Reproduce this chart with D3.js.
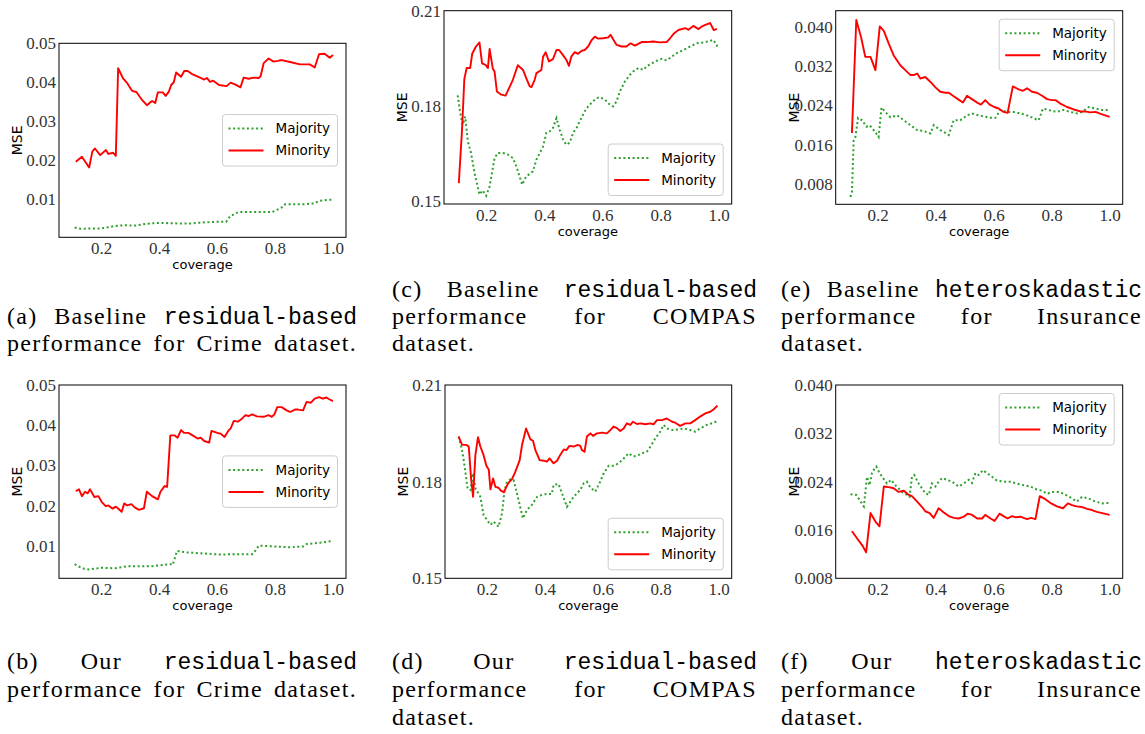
<!DOCTYPE html>
<html lang="en">
<head>
<meta charset="UTF-8">
<title>MSE vs coverage, Majority / Minority</title>
<script src="https://cdnjs.cloudflare.com/ajax/libs/d3/7.8.5/d3.min.js"></script>
<style>
  body { margin: 0; background: #fff; }
  svg { display: block; }
</style>
</head>
<body>
<div id="chart"></div>
<script>

// ---- data ----
var seriesNames = ["Majority", "Minority"];
var xTicks = [0.2, 0.4, 0.6, 0.8, 1.0];
var yTicksCrime = [0.01, 0.02, 0.03, 0.04, 0.05];
var yTicksCompas = [0.15, 0.18, 0.21];
var yTicksInsurance = [0.008, 0.016, 0.024, 0.032, 0.040];

// (a) baseline residual-based, Crime
var covA_maj = [0.109,0.128,0.202,0.248,0.282,0.318,0.360,0.400,0.450,0.500,0.550,0.600,0.632,0.645,0.674,0.700,0.790,0.800,0.822,0.835,0.900,0.935,0.955,1.000];
var mseA_maj = [0.0027,0.0024,0.0025,0.0031,0.0033,0.0032,0.0037,0.0039,0.0038,0.0037,0.0040,0.0042,0.0042,0.0056,0.0067,0.0067,0.0067,0.0070,0.0078,0.0087,0.0087,0.0089,0.0096,0.0099];
var covA_min = [0.113,0.134,0.159,0.170,0.179,0.197,0.217,0.225,0.242,0.251,0.259,0.276,0.291,0.307,0.322,0.339,0.358,0.376,0.387,0.396,0.413,0.423,0.434,0.442,0.451,0.459,0.476,0.487,0.499,0.516,0.538,0.556,0.565,0.576,0.587,0.607,0.633,0.647,0.664,0.681,0.692,0.709,0.726,0.744,0.750,0.761,0.778,0.795,0.810,0.823,0.852,0.886,0.920,0.937,0.952,0.971,0.989,1.000];
var mseA_min = [0.0196,0.0209,0.0181,0.0222,0.0230,0.0213,0.0226,0.0216,0.0219,0.0211,0.0436,0.0410,0.0397,0.0378,0.0375,0.0357,0.0341,0.0352,0.0347,0.0374,0.0374,0.0365,0.0376,0.0393,0.0400,0.0425,0.0414,0.0429,0.0429,0.0420,0.0413,0.0407,0.0411,0.0401,0.0404,0.0393,0.0390,0.0399,0.0394,0.0387,0.0412,0.0409,0.0412,0.0411,0.0415,0.0449,0.0461,0.0453,0.0455,0.0457,0.0452,0.0446,0.0446,0.0438,0.0472,0.0473,0.0463,0.0470];

// (b) our residual-based, Crime
var covB_maj = [0.109,0.134,0.157,0.202,0.248,0.293,0.373,0.441,0.447,0.462,0.499,0.545,0.613,0.658,0.721,0.727,0.744,0.772,0.852,0.897,0.909,0.954,1.000];
var mseB_maj = [0.0055,0.0045,0.0042,0.0046,0.0045,0.0050,0.0050,0.0055,0.0053,0.0088,0.0084,0.0082,0.0079,0.0080,0.0080,0.0083,0.0101,0.0100,0.0097,0.0099,0.0105,0.0108,0.0113];
var covB_min = [0.113,0.124,0.134,0.145,0.154,0.162,0.177,0.191,0.202,0.216,0.225,0.240,0.251,0.261,0.271,0.280,0.290,0.305,0.316,0.331,0.348,0.358,0.376,0.396,0.405,0.419,0.428,0.439,0.453,0.464,0.476,0.487,0.501,0.516,0.533,0.544,0.556,0.573,0.581,0.601,0.613,0.626,0.641,0.647,0.658,0.672,0.687,0.698,0.710,0.721,0.738,0.761,0.778,0.789,0.798,0.808,0.823,0.840,0.852,0.869,0.880,0.897,0.909,0.924,0.937,0.952,0.965,0.977,0.989,1.000];
var mseB_min = [0.0236,0.0241,0.0224,0.0235,0.0231,0.0241,0.0222,0.0224,0.0210,0.0199,0.0201,0.0193,0.0198,0.0192,0.0185,0.0206,0.0201,0.0204,0.0196,0.0190,0.0194,0.0235,0.0224,0.0216,0.0235,0.0249,0.0247,0.0375,0.0375,0.0369,0.0388,0.0381,0.0381,0.0375,0.0367,0.0369,0.0361,0.0357,0.0386,0.0381,0.0379,0.0371,0.0388,0.0392,0.0411,0.0409,0.0417,0.0425,0.0423,0.0427,0.0422,0.0421,0.0425,0.0421,0.0427,0.0445,0.0445,0.0437,0.0433,0.0439,0.0439,0.0437,0.0458,0.0456,0.0466,0.0470,0.0466,0.0469,0.0464,0.0460];

// (c) baseline residual-based, COMPAS
var covC_maj = [0.102,0.111,0.119,0.128,0.137,0.148,0.160,0.177,0.188,0.200,0.212,0.229,0.240,0.258,0.275,0.292,0.304,0.324,0.338,0.361,0.373,0.396,0.407,0.419,0.430,0.442,0.453,0.465,0.476,0.488,0.499,0.511,0.522,0.539,0.551,0.568,0.580,0.591,0.609,0.626,0.637,0.649,0.660,0.678,0.695,0.706,0.724,0.741,0.752,0.770,0.787,0.804,0.821,0.839,0.856,0.879,0.902,0.925,0.948,0.965,0.982,0.996];
var mseC_maj = [0.1833,0.1777,0.1740,0.1766,0.1688,0.1651,0.1588,0.1520,0.1533,0.1516,0.1546,0.1635,0.1651,0.1651,0.1646,0.1635,0.1609,0.1551,0.1577,0.1593,0.1630,0.1672,0.1714,0.1719,0.1730,0.1761,0.1724,0.1693,0.1677,0.1684,0.1714,0.1730,0.1751,0.1782,0.1798,0.1814,0.1824,0.1827,0.1819,0.1803,0.1798,0.1814,0.1845,0.1877,0.1898,0.1908,0.1919,0.1913,0.1924,0.1934,0.1942,0.1948,0.1943,0.1955,0.1966,0.1976,0.1987,0.1997,0.2000,0.2003,0.2008,0.1987];
var covC_min = [0.106,0.117,0.125,0.133,0.145,0.152,0.165,0.177,0.186,0.198,0.206,0.212,0.223,0.229,0.237,0.252,0.267,0.292,0.309,0.327,0.338,0.350,0.356,0.367,0.373,0.390,0.396,0.405,0.416,0.430,0.442,0.451,0.465,0.476,0.485,0.493,0.505,0.516,0.528,0.539,0.551,0.562,0.574,0.585,0.603,0.620,0.628,0.637,0.649,0.666,0.683,0.697,0.712,0.735,0.752,0.775,0.798,0.821,0.833,0.847,0.862,0.885,0.896,0.913,0.931,0.942,0.954,0.971,0.983,0.994];
var mseC_min = [0.1556,0.1724,0.1885,0.1919,0.1919,0.1964,0.1987,0.2000,0.1934,0.1929,0.1919,0.1979,0.1917,0.1908,0.1845,0.1835,0.1832,0.1882,0.1928,0.1913,0.1887,0.1861,0.1859,0.1882,0.1903,0.1913,0.1955,0.1969,0.1940,0.1947,0.1976,0.1976,0.1959,0.1945,0.1926,0.1955,0.1969,0.1964,0.1973,0.1976,0.1987,0.2006,0.2018,0.2012,0.2013,0.2016,0.2024,0.2010,0.1992,0.1987,0.1987,0.1997,0.1990,0.2001,0.2001,0.2003,0.2000,0.2001,0.2013,0.2029,0.2039,0.2045,0.2040,0.2052,0.2042,0.2050,0.2055,0.2061,0.2039,0.2043];

// (d) our residual-based, COMPAS
var covD_maj = [0.102,0.114,0.122,0.133,0.143,0.152,0.160,0.177,0.188,0.200,0.212,0.223,0.240,0.252,0.260,0.269,0.281,0.292,0.309,0.324,0.338,0.355,0.373,0.390,0.407,0.424,0.430,0.447,0.459,0.476,0.488,0.499,0.511,0.522,0.534,0.545,0.557,0.574,0.591,0.603,0.620,0.637,0.655,0.672,0.689,0.706,0.724,0.741,0.752,0.766,0.781,0.798,0.810,0.821,0.839,0.862,0.879,0.896,0.919,0.936,0.959,0.982,0.996];
var mseD_maj = [0.1940,0.1898,0.1852,0.1779,0.1774,0.1826,0.1779,0.1753,0.1697,0.1681,0.1666,0.1676,0.1660,0.1702,0.1769,0.1800,0.1807,0.1805,0.1743,0.1686,0.1712,0.1728,0.1753,0.1759,0.1762,0.1762,0.1790,0.1793,0.1764,0.1722,0.1738,0.1753,0.1764,0.1774,0.1795,0.1800,0.1782,0.1769,0.1800,0.1826,0.1849,0.1849,0.1857,0.1872,0.1888,0.1878,0.1883,0.1890,0.1893,0.1911,0.1934,0.1955,0.1976,0.1965,0.1960,0.1962,0.1965,0.1962,0.1955,0.1965,0.1976,0.1983,0.1988];
var covD_min = [0.102,0.114,0.129,0.137,0.145,0.152,0.160,0.169,0.177,0.188,0.198,0.206,0.212,0.221,0.229,0.240,0.248,0.258,0.267,0.275,0.286,0.298,0.313,0.321,0.335,0.350,0.359,0.367,0.382,0.396,0.407,0.416,0.430,0.442,0.453,0.465,0.474,0.485,0.499,0.514,0.522,0.528,0.537,0.545,0.557,0.566,0.580,0.597,0.614,0.626,0.637,0.649,0.660,0.672,0.683,0.695,0.704,0.718,0.730,0.747,0.764,0.775,0.787,0.804,0.821,0.839,0.850,0.867,0.885,0.902,0.919,0.936,0.954,0.971,0.982,0.996];
var mseD_min = [0.1940,0.1914,0.1914,0.1909,0.1810,0.1753,0.1883,0.1938,0.1909,0.1883,0.1849,0.1838,0.1776,0.1810,0.1784,0.1781,0.1772,0.1767,0.1784,0.1797,0.1807,0.1831,0.1867,0.1914,0.1965,0.1931,0.1927,0.1898,0.1867,0.1865,0.1862,0.1872,0.1857,0.1865,0.1883,0.1900,0.1898,0.1911,0.1909,0.1914,0.1911,0.1898,0.1893,0.1940,0.1950,0.1942,0.1950,0.1952,0.1950,0.1960,0.1971,0.1966,0.1957,0.1965,0.1981,0.1976,0.1986,0.1979,0.1981,0.1978,0.1981,0.1978,0.1991,0.1991,0.1996,0.1986,0.1983,0.1973,0.1981,0.1981,0.1991,0.2002,0.2012,0.2017,0.2024,0.2036];

// (e) baseline heteroskadastic, Insurance
var covE_maj = [0.106,0.111,0.117,0.123,0.132,0.146,0.161,0.172,0.189,0.203,0.213,0.226,0.244,0.267,0.290,0.313,0.336,0.359,0.382,0.393,0.416,0.428,0.445,0.462,0.485,0.508,0.525,0.548,0.571,0.589,0.606,0.623,0.646,0.669,0.692,0.715,0.738,0.755,0.770,0.795,0.818,0.841,0.864,0.887,0.905,0.928,0.951,0.974,1.000];
var mseE_maj = [0.0054,0.0064,0.0169,0.0176,0.0215,0.0210,0.0197,0.0200,0.0188,0.0176,0.0236,0.0227,0.0216,0.0220,0.0210,0.0200,0.0190,0.0188,0.0183,0.0200,0.0190,0.0186,0.0180,0.0210,0.0210,0.0220,0.0224,0.0220,0.0217,0.0215,0.0215,0.0231,0.0227,0.0227,0.0224,0.0220,0.0214,0.0210,0.0234,0.0230,0.0227,0.0231,0.0227,0.0224,0.0227,0.0237,0.0234,0.0231,0.0231];
var covE_min = [0.111,0.126,0.143,0.157,0.175,0.192,0.207,0.221,0.238,0.255,0.278,0.295,0.313,0.324,0.336,0.347,0.364,0.382,0.399,0.416,0.433,0.445,0.462,0.479,0.494,0.508,0.525,0.543,0.556,0.571,0.586,0.602,0.617,0.634,0.648,0.666,0.686,0.701,0.715,0.732,0.749,0.767,0.784,0.801,0.813,0.830,0.853,0.876,0.899,0.916,0.933,0.951,0.974,1.000];
var mseE_min = [0.0184,0.0414,0.0378,0.0339,0.0339,0.0312,0.0401,0.0392,0.0366,0.0342,0.0322,0.0312,0.0302,0.0302,0.0305,0.0295,0.0298,0.0288,0.0277,0.0268,0.0266,0.0266,0.0259,0.0252,0.0246,0.0260,0.0253,0.0246,0.0242,0.0251,0.0242,0.0237,0.0234,0.0227,0.0225,0.0279,0.0273,0.0270,0.0275,0.0268,0.0266,0.0260,0.0253,0.0251,0.0251,0.0244,0.0237,0.0232,0.0228,0.0228,0.0226,0.0227,0.0222,0.0217];

// (f) our heteroskadastic, Insurance
var covF_maj = [0.106,0.126,0.137,0.152,0.163,0.172,0.180,0.189,0.195,0.203,0.215,0.232,0.246,0.261,0.284,0.301,0.310,0.318,0.326,0.341,0.364,0.376,0.387,0.399,0.410,0.422,0.439,0.456,0.479,0.497,0.514,0.525,0.537,0.548,0.563,0.577,0.594,0.611,0.634,0.657,0.680,0.703,0.726,0.749,0.767,0.784,0.801,0.824,0.841,0.864,0.887,0.905,0.928,0.951,0.974,1.000];
var mseF_maj = [0.0219,0.0218,0.0210,0.0199,0.0248,0.0234,0.0254,0.0262,0.0265,0.0257,0.0248,0.0237,0.0243,0.0234,0.0223,0.0218,0.0215,0.0248,0.0251,0.0237,0.0221,0.0218,0.0237,0.0232,0.0240,0.0246,0.0243,0.0240,0.0232,0.0237,0.0243,0.0238,0.0254,0.0251,0.0259,0.0254,0.0248,0.0242,0.0240,0.0240,0.0237,0.0234,0.0232,0.0227,0.0225,0.0220,0.0223,0.0223,0.0220,0.0214,0.0207,0.0215,0.0212,0.0207,0.0204,0.0205];
var covF_min = [0.111,0.129,0.146,0.160,0.175,0.192,0.206,0.221,0.238,0.255,0.272,0.290,0.307,0.318,0.336,0.353,0.364,0.379,0.393,0.410,0.428,0.445,0.462,0.479,0.497,0.510,0.525,0.543,0.560,0.571,0.589,0.603,0.620,0.634,0.648,0.663,0.677,0.692,0.703,0.715,0.729,0.744,0.759,0.778,0.795,0.818,0.839,0.856,0.870,0.885,0.905,0.922,0.939,0.956,0.974,1.000];
var mseF_min = [0.0158,0.0146,0.0135,0.0123,0.0188,0.0174,0.0166,0.0232,0.0231,0.0229,0.0223,0.0225,0.0218,0.0216,0.0207,0.0198,0.0191,0.0188,0.0180,0.0196,0.0189,0.0183,0.0180,0.0179,0.0182,0.0187,0.0185,0.0179,0.0179,0.0185,0.0179,0.0175,0.0187,0.0183,0.0179,0.0183,0.0181,0.0182,0.0180,0.0178,0.0180,0.0178,0.0216,0.0211,0.0205,0.0199,0.0196,0.0204,0.0201,0.0199,0.0198,0.0195,0.0193,0.0190,0.0188,0.0185];

// captions (words, one array per line)
var monoWords = ["residual-based", "heteroskadastic"];
var captionA = [["(a)", "Baseline", "residual-based"], ["performance", "for", "Crime", "dataset."]];
var captionB = [["(b)", "Our", "residual-based"], ["performance", "for", "Crime", "dataset."]];
var captionC = [["(c)", "Baseline", "residual-based"], ["performance", "for", "COMPAS"], ["dataset."]];
var captionD = [["(d)", "Our", "residual-based"], ["performance", "for", "COMPAS"], ["dataset."]];
var captionE = [["(e)", "Baseline", "heteroskadastic"], ["performance", "for", "Insurance"], ["dataset."]];
var captionF = [["(f)", "Our", "heteroskadastic"], ["performance", "for", "Insurance"], ["dataset."]];

// ---- drawing ----
var serifFont = "'Liberation Serif', 'Times New Roman', serif";
var monoFont = "'Liberation Mono', 'DejaVu Sans Mono', monospace";
var sansFont = "'DejaVu Sans', Verdana, sans-serif";
var majColor = "#2ca02c", minColor = "#ff0000";

var svg = d3.select("#chart").append("svg")
    .attr("width", 1145)
    .attr("height", 734);

var panels = [
  {frame: [59, 43.3, 346, 237.3], yDomain: [0.0002, 0.05], yTicks: yTicksCrime, fmt: ".2f", legend: "center",
   maj: [covA_maj, mseA_maj], min: [covA_min, mseA_min]},
  {frame: [59, 385, 346, 578.3], yDomain: [0.002, 0.05], yTicks: yTicksCrime, fmt: ".2f", legend: "center",
   maj: [covB_maj, mseB_maj], min: [covB_min, mseB_min]},
  {frame: [444, 10.7, 731.7, 204], yDomain: [0.149, 0.21], yTicks: yTicksCompas, fmt: ".2f", legend: "lower",
   maj: [covC_maj, mseC_maj], min: [covC_min, mseC_min]},
  {frame: [445, 385, 731.7, 578.3], yDomain: [0.15, 0.21], yTicks: yTicksCompas, fmt: ".2f", legend: "lower",
   maj: [covD_maj, mseD_maj], min: [covD_min, mseD_min]},
  {frame: [835.7, 10.7, 1122.7, 204.3], yDomain: [0.0039, 0.0433], yTicks: yTicksInsurance, fmt: ".3f", legend: "upper",
   maj: [covE_maj, mseE_maj], min: [covE_min, mseE_min]},
  {frame: [835.7, 385, 1122.7, 578.3], yDomain: [0.008, 0.040], yTicks: yTicksInsurance, fmt: ".3f", legend: "upper",
   maj: [covF_maj, mseF_maj], min: [covF_min, mseF_min]}
];

panels.forEach(function(p) {
  var left = p.frame[0], top = p.frame[1], right = p.frame[2], bottom = p.frame[3];

  var x = d3.scaleLinear().domain([0.055, 1.045]).range([left, right]);
  var y = d3.scaleLinear().domain(p.yDomain).range([bottom, top]);

  var g = svg.append("g");

  // axes
  var xAxis = g.append("g")
    .attr("transform", "translate(0," + bottom + ")")
    .call(d3.axisBottom(x).tickValues(xTicks).tickFormat(d3.format(".1f")).tickSize(0).tickPadding(5));
  var yAxis = g.append("g")
    .attr("transform", "translate(" + left + ",0)")
    .call(d3.axisLeft(y).tickValues(p.yTicks).tickFormat(d3.format(p.fmt)).tickSize(0).tickPadding(3));
  [xAxis, yAxis].forEach(function(a) {
    a.select(".domain").remove();
    a.selectAll("text")
      .style("font-family", serifFont)
      .style("font-size", "17px")
      .attr("fill", "#333");
  });

  // series
  var line = d3.line()
    .x(function(d) { return x(d[0]); })
    .y(function(d) { return y(d[1]); });

  g.append("path")
    .datum(d3.zip(p.maj[0], p.maj[1]))
    .attr("d", line)
    .attr("fill", "none")
    .attr("stroke", majColor)
    .attr("stroke-width", 2)
    .attr("stroke-dasharray", "2,2.6");

  g.append("path")
    .datum(d3.zip(p.min[0], p.min[1]))
    .attr("d", line)
    .attr("fill", "none")
    .attr("stroke", minColor)
    .attr("stroke-width", 1.9)
    .attr("stroke-linejoin", "round");

  // frame
  g.append("rect")
    .attr("x", left).attr("y", top)
    .attr("width", right - left).attr("height", bottom - top)
    .attr("fill", "none")
    .attr("stroke", "#000")
    .attr("stroke-width", 1);

  // axis labels
  g.append("text")
    .attr("x", (left + right) / 2)
    .attr("y", bottom + 32)
    .attr("text-anchor", "middle")
    .style("font-family", sansFont)
    .style("font-size", "13px")
    .text("coverage");

  g.append("text")
    .attr("transform", "translate(" + (left - 37) + "," + ((top + bottom) / 2) + ") rotate(-90)")
    .attr("text-anchor", "middle")
    .style("font-family", sansFont)
    .style("font-size", "14px")
    .text("MSE");

  // legend
  var lw = 115, lh = 51.5, inset = 8.5;
  var lx = right - inset - lw;
  var ly = p.legend === "upper" ? top + inset
         : p.legend === "lower" ? bottom - inset - lh
         : (top + bottom) / 2 - lh / 2;
  var lg = g.append("g").attr("transform", "translate(" + lx + "," + ly + ")");
  lg.append("rect")
    .attr("width", lw).attr("height", lh)
    .attr("rx", 3)
    .attr("fill", "#fff").attr("fill-opacity", 0.8)
    .attr("stroke", "#cccccc").attr("stroke-width", 1);
  seriesNames.forEach(function(name, i) {
    var yy = 14 + i * 22;
    lg.append("line")
      .attr("x1", 6).attr("x2", 41).attr("y1", yy).attr("y2", yy)
      .attr("stroke", i === 0 ? majColor : minColor)
      .attr("stroke-width", 2)
      .attr("stroke-dasharray", i === 0 ? "2,2.6" : null);
    lg.append("text")
      .attr("x", 53).attr("y", yy)
      .attr("dy", "0.36em")
      .style("font-family", sansFont)
      .style("font-size", "13.5px")
      .text(name);
  });
});

// justified captions under each panel
function drawCaption(lines, x0, x1, baselines) {
  lines.forEach(function(words, i) {
    var t = svg.append("text").attr("y", baselines[i]).attr("fill", "#000");
    var spans = words.map(function(w) {
      var isMono = monoWords.indexOf(w) >= 0;
      return t.append("tspan")
        .style("font-family", isMono ? monoFont : serifFont)
        .style("font-size", isMono ? "23px" : "24px")
        .style("letter-spacing", isMono ? "0px" : "1.3px")
        .text(w);
    });
    var widths = spans.map(function(s) { return s.node().getComputedTextLength(); });
    var total = d3.sum(widths);
    var gap = words.length > 1 ? (x1 - x0 - total) / (words.length - 1) : 0;
    var cx = x0;
    spans.forEach(function(s, k) {
      s.attr("x", cx);
      cx += widths[k] + gap;
    });
  });
}

drawCaption(captionA, 7, 357, [324, 351]);
drawCaption(captionC, 392, 757, [297, 324, 351]);
drawCaption(captionE, 781, 1142, [297, 324, 351]);
drawCaption(captionB, 7, 357, [669, 697]);
drawCaption(captionD, 392, 757, [669, 697, 725]);
drawCaption(captionF, 781, 1142, [669, 697, 725]);

</script>
</body>
</html>
